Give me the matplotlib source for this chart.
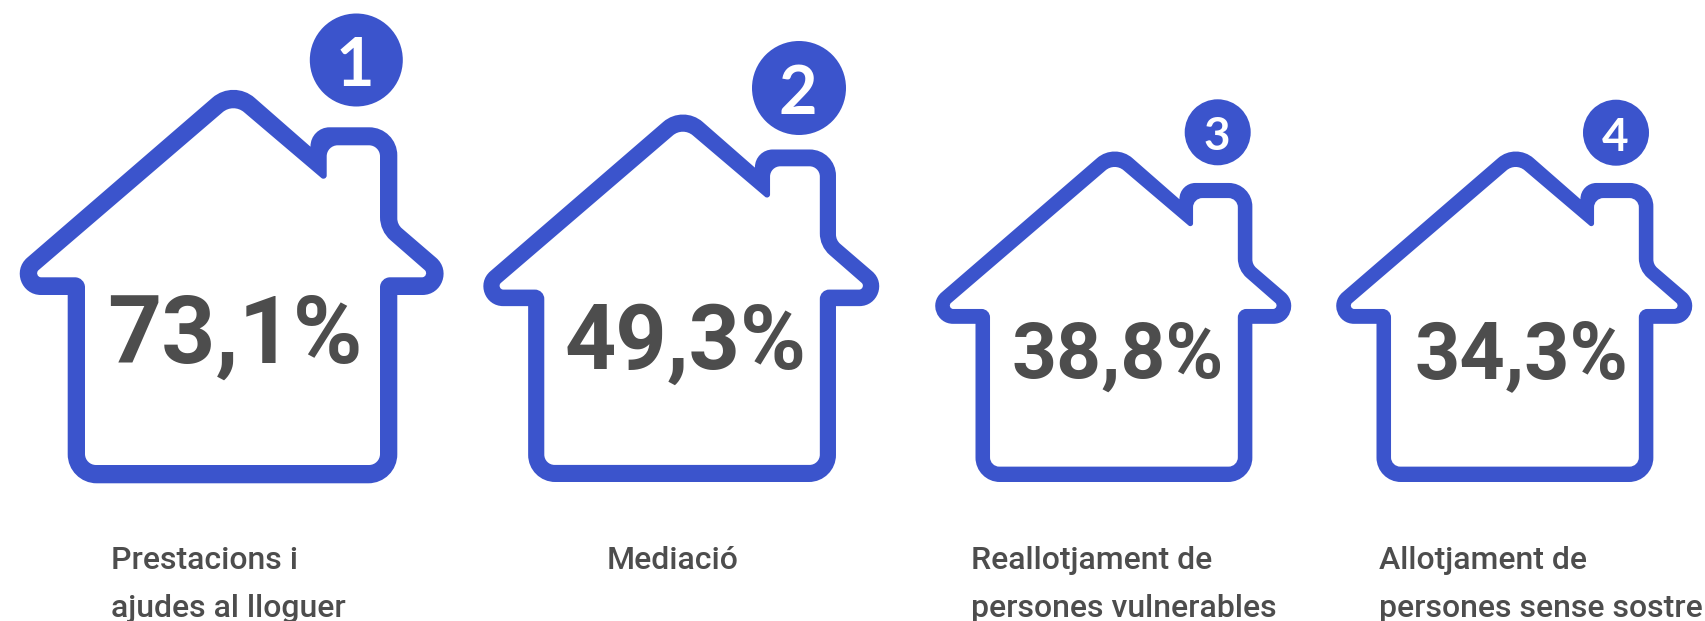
import math
import matplotlib
matplotlib.use("Agg")
import matplotlib.pyplot as plt
from matplotlib.path import Path
from matplotlib.patches import PathPatch, Circle

BLUE = "#3b54cc"
GREY = "#4d4d4d"

values = [73.1, 49.3, 38.8, 34.3]
ranks = ["1", "2", "3", "4"]
labels = [["Prestacions i", "ajudes al lloguer"],
          ["Mediació"],
          ["Reallotjament de", "persones vulnerables"],
          ["Allotjament de", "persones sense sostre"]]

# house placement, in pixels: left edge, bottom edge, scale
house_x = [18.3, 482, 934, 1335]
house_bottom = [483.3, 482, 482, 482]
house_scale = [1.0, 0.934, 0.84, 0.84]
badge_xy = [(356.3, 60), (799, 88), (1217.7, 132.3), (1616, 132.7)]
badge_r = [46.5, 47, 33, 33]
badge_size = [48, 48, 33, 33]
value_size = [68, 64.5, 56.5, 57]
value_xy = [(235, 363), (685.6, 368.5), (1118, 377.5), (1521, 378)]
label_xy = [(111, 569), (607, 569), (971, 569), (1379, 569)]

# outline corners (x, y, corner size) of the biggest house
outer = [(233.6, 79.4, 28), (310.5, 146.7, 0), (310.5, 127.3, 19), (397.3, 127.3, 28),
         (397.3, 224.4, 6), (479.4, 295, 57), (397.3, 295, 0), (397.3, 483.3, 29),
         (67.7, 483.3, 29), (67.7, 295, 0), (-16, 295, 57)]
inner = [(233.3, 103.1, 14), (326.7, 182.5, 7), (326.7, 145.3, 11), (380, 145.3, 11),
         (380, 231, 14), (433, 277.3, 11), (380, 277.3, 10), (380, 465, 11),
         (85, 465, 11), (85, 277.3, 10), (30.2, 277.3, 11)]


def rounded(corners, dx, dy, s):
    verts, codes = [], []
    n = len(corners)
    for i in range(n):
        x0, y0, _ = corners[i - 1]
        x1, y1, d = corners[i]
        x2, y2, _ = corners[(i + 1) % n]
        la = math.hypot(x0 - x1, y0 - y1)
        lb = math.hypot(x2 - x1, y2 - y1)
        ax, ay = x1 + (x0 - x1) * d / la, y1 + (y0 - y1) * d / la
        bx, by = x1 + (x2 - x1) * d / lb, y1 + (y2 - y1) * d / lb
        # bezier handle for a circular arc at this corner
        cos_a = ((x0 - x1) * (x2 - x1) + (y0 - y1) * (y2 - y1)) / (la * lb)
        angle = math.acos(max(-1, min(1, cos_a)))
        f = 4 / 3 * math.tan((math.pi - angle) / 4) * math.tan(angle / 2)
        pts = [(ax, ay), (ax + (x1 - ax) * f, ay + (y1 - ay) * f),
               (bx + (x1 - bx) * f, by + (y1 - by) * f), (bx, by)]
        verts += [((px - 18.3) * s + dx, (py - 483.3) * s + dy) for px, py in pts]
        codes += [Path.MOVETO if i == 0 else Path.LINETO, Path.CURVE4, Path.CURVE4, Path.CURVE4]
    verts.append(verts[0])
    codes.append(Path.CLOSEPOLY)
    return verts, codes


fig = plt.figure(figsize=(17.05, 6.21), dpi=100)
ax = fig.add_axes([0, 0, 1, 1])
ax.set_xlim(0, 1705)
ax.set_ylim(621, 0)
ax.axis("off")

for i in range(len(values)):
    v1, c1 = rounded(outer, house_x[i], house_bottom[i], house_scale[i])
    # inner outline runs the other way to leave a hole
    v2, c2 = rounded(inner[::-1], house_x[i], house_bottom[i], house_scale[i])
    ax.add_patch(PathPatch(Path(v1 + v2, c1 + c2), fc=BLUE, ec="none"))
    ax.add_patch(Circle(badge_xy[i], badge_r[i], fc=BLUE, ec="none"))
    ax.text(badge_xy[i][0] - 1, badge_xy[i][1] + 1, ranks[i], color="white", family="Lato",
            weight="bold", fontsize=badge_size[i], ha="center", va="center_baseline")
    txt = f"{values[i]:.1f}".replace(".", ",") + "%"
    ax.text(value_xy[i][0], value_xy[i][1], txt, color=GREY, family="Roboto", weight="bold",
            fontsize=value_size[i], ha="center", va="baseline")
    for j, line in enumerate(labels[i]):
        ax.text(label_xy[i][0], label_xy[i][1] + j * 48, line, color=GREY, family="Roboto",
                weight="medium", fontsize=23, ha="left", va="baseline")

fig.savefig("out.png", dpi=100)
